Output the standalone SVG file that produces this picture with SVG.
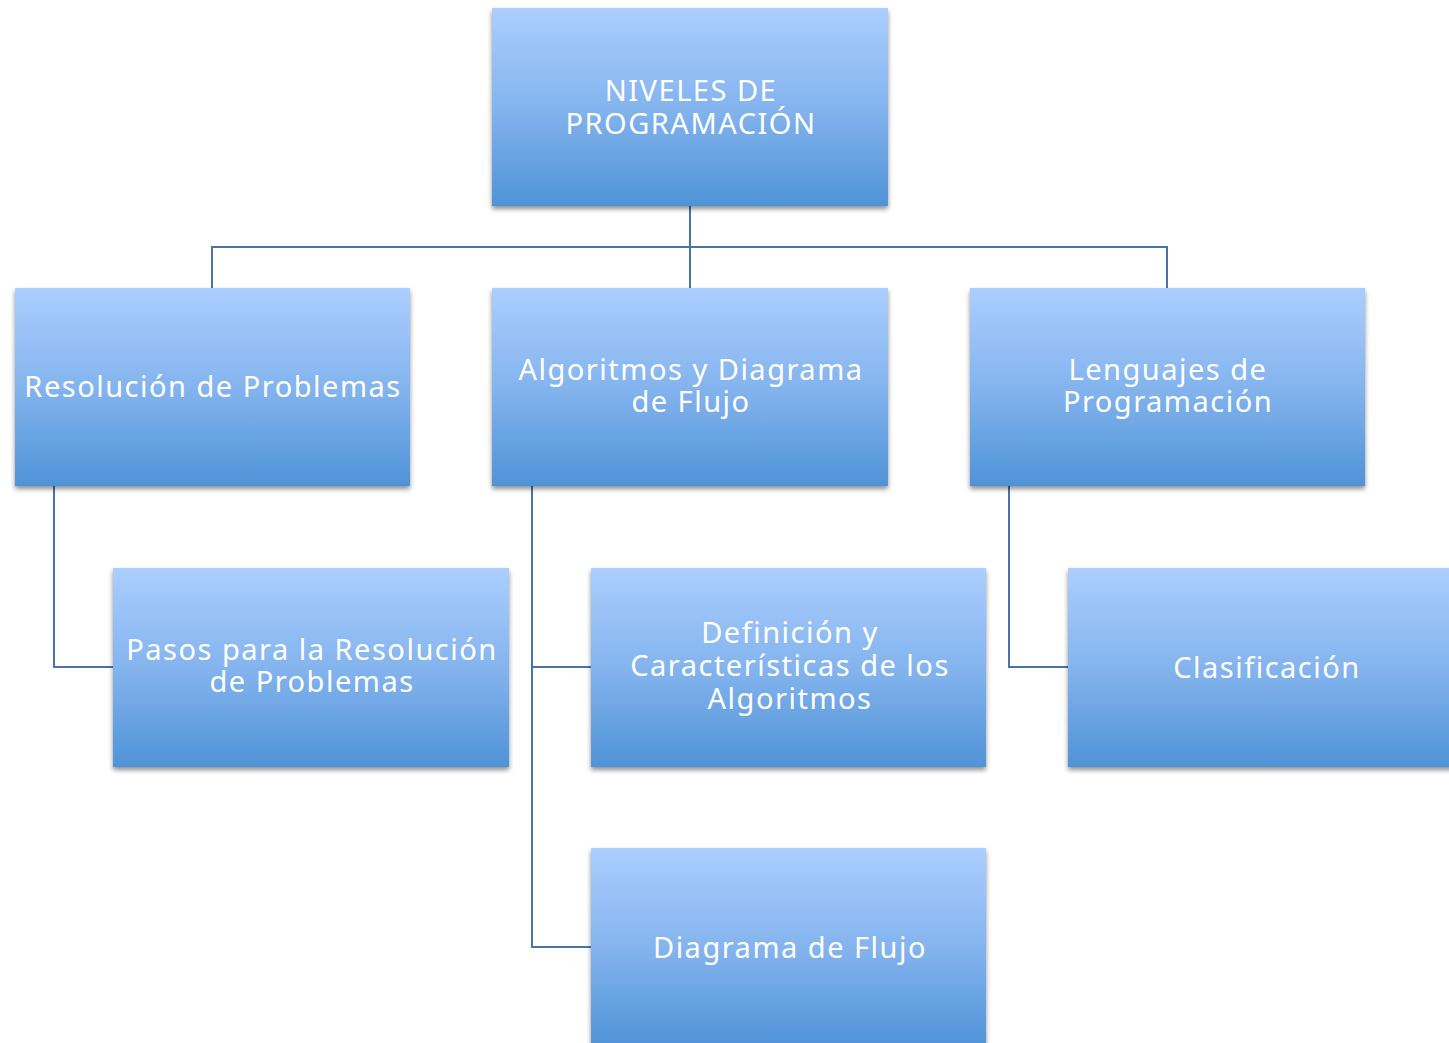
<svg xmlns="http://www.w3.org/2000/svg" width="1449" height="1043" viewBox="0 0 1449 1043">
<defs>
<linearGradient id="g" x1="0" y1="0" x2="0" y2="1">
<stop offset="0" stop-color="#abcefe"/>
<stop offset="0.5" stop-color="#84b4ee"/>
<stop offset="1" stop-color="#4f93d7"/>
</linearGradient>
<filter id="sh" x="-5%" y="-5%" width="112%" height="115%">
<feGaussianBlur in="SourceAlpha" stdDeviation="2.5"/>
<feOffset dx="0" dy="3" result="b"/>
<feComponentTransfer><feFuncA type="linear" slope="0.45"/></feComponentTransfer>
<feMerge><feMergeNode/><feMergeNode in="SourceGraphic"/></feMerge>
</filter>
</defs>
<style>
.box{fill:url(#g);filter:url(#sh);}
.t{font-family:"Noto Sans","Open Sans",sans-serif;font-size:29px;letter-spacing:1.5px;fill:#ffffff;text-anchor:middle;}
.c{fill:none;stroke:#4a74a8;stroke-width:2;}
</style>
<rect width="1449" height="1043" fill="#ffffff"/>
<g id="connectors">
<path class="c" d="M690 206 V288 M212 288 V247 H1167 V288"/>
<path class="c" d="M54 486 V667 H113"/>
<path class="c" d="M532 486 V947 H591 M532 667 H591"/>
<path class="c" d="M1009 486 V667 H1068"/>
</g>
<g id="n0"><rect class="box" x="492" y="8" width="396" height="198"/>
<text class="t" x="691" y="101">NIVELES DE</text><text class="t" x="691" y="134">PROGRAMACIÓN</text></g>
<g id="n1"><rect class="box" x="15" y="288" width="395" height="198"/>
<text class="t" x="213" y="397">Resolución de Problemas</text></g>
<g id="n2"><rect class="box" x="492" y="288" width="396" height="198"/>
<text class="t" x="691" y="380">Algoritmos y Diagrama</text><text class="t" x="691" y="412">de Flujo</text></g>
<g id="n3"><rect class="box" x="970" y="288" width="395" height="198"/>
<text class="t" x="1168" y="380">Lenguajes de</text><text class="t" x="1168" y="412">Programación</text></g>
<g id="n4"><rect class="box" x="113" y="568" width="396" height="199"/>
<text class="t" x="312" y="660">Pasos para la Resolución</text><text class="t" x="312" y="692">de Problemas</text></g>
<g id="n5"><rect class="box" x="591" y="568" width="395" height="199"/>
<text class="t" x="790" y="643">Definición y</text><text class="t" x="790" y="676">Características de los</text><text class="t" x="790" y="709">Algoritmos</text></g>
<g id="n6"><rect class="box" x="1068" y="568" width="396" height="199"/>
<text class="t" x="1267" y="678">Clasificación</text></g>
<g id="n7"><rect class="box" x="591" y="848" width="395" height="199"/>
<text class="t" x="790" y="958">Diagrama de Flujo</text></g>
</svg>
